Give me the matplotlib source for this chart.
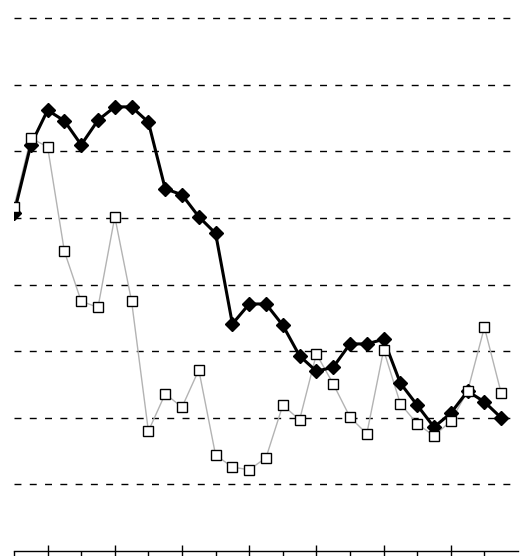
import numpy as np
import matplotlib.pyplot as plt

# series values
x = np.arange(30)
filled = [5.07, 6.10, 6.62, 6.46, 6.10, 6.47, 6.67, 6.67, 6.44, 5.44,
          5.35, 5.02, 4.77, 3.41, 3.71, 3.71, 3.39, 2.93, 2.70, 2.76,
          3.11, 3.11, 3.18, 2.52, 2.19, 1.86, 2.07, 2.40, 2.24, 2.00]
hollow = [5.17, 6.20, 6.07, 4.50, 3.75, 3.66, 5.02, 3.75, 1.80, 2.36,
          2.16, 2.72, 1.44, 1.26, 1.22, 1.40, 2.19, 1.97, 2.96, 2.51,
          2.01, 1.76, 3.02, 2.21, 1.91, 1.73, 1.95, 2.40, 3.36, 2.37]
grid_levels = [1, 2, 3, 4, 5, 6, 7, 8]
major_ticks = [2, 6, 10, 14, 18, 22, 26]
minor_ticks = [0, 4, 8, 12, 16, 20, 24, 28]

fig = plt.figure(figsize=(5.2, 5.56), dpi=100)
ax = fig.add_axes([14 / 520, 5 / 556, 504 / 520, 546 / 556])

ax.set_xlim(0, 30)
ax.set_ylim(0, 8.2)

for g in grid_levels:
    ax.axhline(g, color="black", lw=1.0, ls=(0, (5, 6)), zorder=1)

ax.plot(x, hollow, "-", color="0.7", lw=1.0, zorder=2)
ax.plot(x, filled, "-", color="black", lw=2.2, marker="D", ms=7.5,
        mfc="black", mec="black", zorder=3)
ax.plot(x, hollow, "s", ms=7.5, mfc="white", mec="black", mew=1.0, zorder=4)

for side in ("left", "right", "top"):
    ax.spines[side].set_visible(False)
ax.spines["bottom"].set_linewidth(1.0)

ax.set_xticks(major_ticks)
ax.set_xticks(minor_ticks, minor=True)
ax.tick_params(axis="x", which="major", direction="inout", length=8,
               width=1.0, labelbottom=False)
ax.tick_params(axis="x", which="minor", direction="out", length=4,
               width=1.0, labelbottom=False)
ax.set_yticks([])

fig.savefig("out.png", dpi=100)
